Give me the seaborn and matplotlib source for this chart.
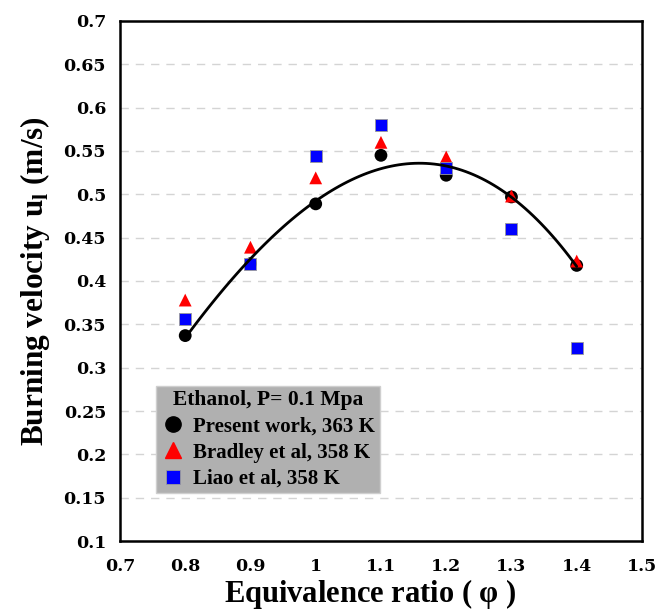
import matplotlib

matplotlib.use("Agg")

import matplotlib.pyplot as plt  # noqa: E402
import pandas as pd  # noqa: E402
import seaborn as sns  # noqa: E402
from matplotlib.lines import Line2D  # noqa: E402
from matplotlib.ticker import MultipleLocator  # noqa: E402

# Dados
phi = [0.8, 0.9, 1.0, 1.1, 1.2, 1.3, 1.4]
present_work = [0.337, 0.420, 0.489, 0.545, 0.522, 0.497, 0.418]
bradley = [0.378, 0.439, 0.519, 0.560, 0.543, 0.498, 0.423]
liao = [0.356, 0.420, 0.544, 0.580, 0.530, 0.460, 0.323]

labels = ["Present work, 363 K", "Bradley et al, 358 K", "Liao et al, 358 K"]
legend_title = "Ethanol, P= 0.1 Mpa"

SERIF = "Liberation Serif"
TICK_FONT = "DejaVu Serif"

sns.set_style("white")
plt.rcParams["font.family"] = [SERIF, "DejaVu Serif"]
plt.rcParams["font.weight"] = "bold"
plt.rcParams["text.color"] = "black"
plt.rcParams["axes.labelcolor"] = "black"
plt.rcParams["xtick.color"] = "black"
plt.rcParams["ytick.color"] = "black"
plt.rcParams["mathtext.fontset"] = "custom"
plt.rcParams["mathtext.rm"] = SERIF
plt.rcParams["mathtext.bf"] = SERIF + ":bold"

fig = plt.figure(figsize=(6.57, 6.12), dpi=100)
ax = fig.add_axes([0.1826, 0.116, 0.7945, 0.8497])

df = pd.DataFrame({"phi": phi, "present": present_work,
                   "bradley": bradley, "liao": liao})

# ajuste polinomial (cúbico) dos dados do presente trabalho
sns.regplot(data=df, x="phi", y="present", order=3, ci=None, scatter=False,
            truncate=True, ax=ax, line_kws=dict(color="black", lw=2, zorder=5))

sns.scatterplot(data=df, x="phi", y="present", marker="o", s=85,
                color="black", edgecolor="none", ax=ax, zorder=2)
sns.scatterplot(data=df, x="phi", y="bradley", marker="^", s=85,
                color="red", edgecolor="none", ax=ax, zorder=3)
sns.scatterplot(data=df, x="phi", y="liao", marker="s", s=75,
                color="blue", edgecolor="#9a9a9a", linewidth=0.6, ax=ax, zorder=4)

ax.set_xlim(0.7, 1.5)
ax.set_ylim(0.1, 0.7)
ax.xaxis.set_major_locator(MultipleLocator(0.1))
ax.xaxis.set_minor_locator(MultipleLocator(0.05))
ax.yaxis.set_major_locator(MultipleLocator(0.05))
ax.yaxis.set_minor_locator(MultipleLocator(0.025))
ax.xaxis.set_major_formatter(lambda v, p: f"{v:g}")
ax.yaxis.set_major_formatter(lambda v, p: f"{v:g}")

ax.tick_params(which="both", direction="in", top=False, right=False,
               width=1.5, color="black")
ax.tick_params(which="major", length=9)
ax.tick_params(which="minor", length=8)
ax.tick_params(axis="x", pad=12)
ax.tick_params(axis="y", pad=10)
for lbl in ax.get_xticklabels() + ax.get_yticklabels():
    lbl.set_fontfamily(TICK_FONT)
    lbl.set_fontweight("bold")
    lbl.set_fontsize(12.5)
    lbl.set_color("black")

for spine in ax.spines.values():
    spine.set_color("black")
    spine.set_linewidth(1.8)

ax.grid(axis="y", which="major", color="#d4d4d4", linestyle=(0, (6, 5)), linewidth=1)
ax.set_axisbelow(True)

ax.set_xlabel("Equivalence ratio ( $\\mathrm{\u03c6}$ )", fontsize=22,
              fontweight="bold", labelpad=2)
ax.xaxis.label.set_x(0.48)
ax.set_ylabel("Burning velocity u$_\\mathbf{l}$ (m/s)", fontsize=22.5,
              fontweight="bold", labelpad=8)

handles = [
    Line2D([], [], ls="none", marker="o", ms=11, color="black"),
    Line2D([], [], ls="none", marker="^", ms=11, color="red"),
    Line2D([], [], ls="none", marker="s", ms=10, color="blue",
           markeredgecolor="#9a9a9a", markeredgewidth=0.6),
]
leg = ax.legend(handles, labels, title=legend_title, loc="lower left",
                bbox_to_anchor=(0.069, 0.092), borderaxespad=0, frameon=True,
                fancybox=False, facecolor="#b0b0b0", edgecolor="#cfcfcf",
                framealpha=1, prop=dict(family=SERIF, weight="bold", size=15),
                title_fontproperties=dict(family=SERIF, weight="bold", size=15.5),
                handletextpad=0.4, handlelength=1.2, labelspacing=0.3,
                borderpad=0.2)
leg.set_zorder(10)

fig.savefig("out.png", dpi=100, facecolor="white")
plt.close(fig)
